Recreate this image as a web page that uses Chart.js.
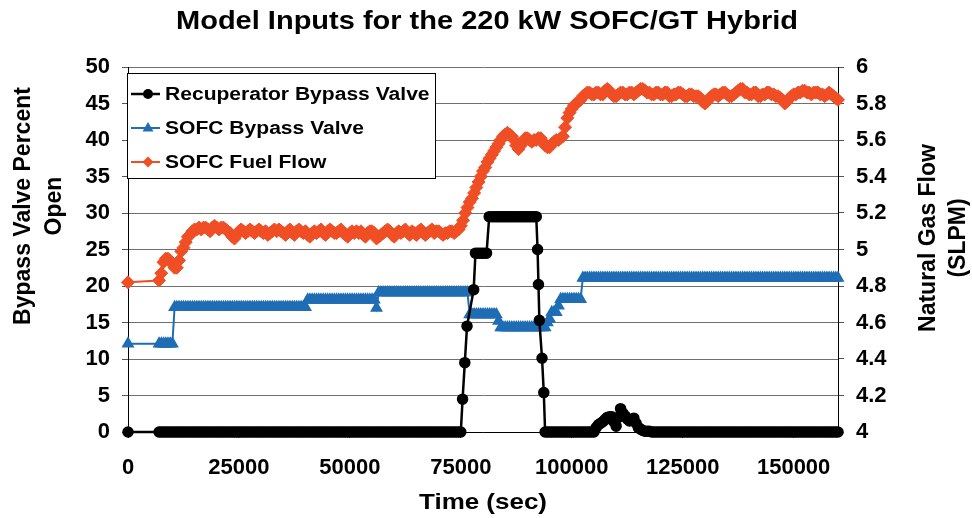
<!DOCTYPE html>
<html>
<head>
<meta charset="utf-8">
<script src="https://cdn.jsdelivr.net/npm/chart.js@4.4.1/dist/chart.umd.min.js"></script>
<style>
  html, body { margin: 0; padding: 0; background: #fff; }
</style>
</head>
<body>
<canvas id="hybridChart" width="972" height="518"></canvas>
<script>
// time stamps (sec) shared by the SOFC bypass valve and fuel flow series
var timeSec = [0,
  7000,7500,8000,8500,9000,9500,10000,10500,11000,11500,
  12000,12500,13000,13500,14000,14500,15000,15500,16000,16500,
  17000,17500,18000,18500,19000,19500,20000,20500,21000,21500,
  22000,22500,23000,23500,24000,24500,25000,25500,26000,26500,
  27000,27500,28000,28500,29000,29500,30000,30500,31000,31500,
  32000,32500,33000,33500,34000,34500,35000,35500,36000,36500,
  37000,37500,38000,38500,39000,39500,40000,40500,41000,41500,
  42000,42500,43000,43500,44000,44500,45000,45500,46000,46500,
  47000,47500,48000,48500,49000,49500,50000,50500,51000,51500,
  52000,52500,53000,53500,54000,54500,55000,55500,56000,56500,
  57000,57500,58000,58500,59000,59500,60000,60500,61000,61500,
  62000,62500,63000,63500,64000,64500,65000,65500,66000,66500,
  67000,67500,68000,68500,69000,69500,70000,70500,71000,71500,
  72000,72500,73000,73500,74000,74500,75000,75500,76000,76500,
  77000,77500,78000,78500,79000,79500,80000,80500,81000,81500,
  82000,82500,83000,83500,84000,84500,85000,85500,86000,86500,
  87000,87500,88000,88500,89000,89500,90000,90500,91000,91500,
  92000,92500,93000,93500,94000,94500,95000,95500,96000,96500,
  97000,97500,98000,98500,99000,99500,100000,100500,101000,101500,
  102000,102500,103000,103500,104000,104500,105000,105500,106000,106500,
  107000,107500,108000,108500,109000,109500,110000,110500,111000,111500,
  112000,112500,113000,113500,114000,114500,115000,115500,116000,116500,
  117000,117500,118000,118500,119000,119500,120000,120500,121000,121500,
  122000,122500,123000,123500,124000,124500,125000,125500,126000,126500,
  127000,127500,128000,128500,129000,129500,130000,130500,131000,131500,
  132000,132500,133000,133500,134000,134500,135000,135500,136000,136500,
  137000,137500,138000,138500,139000,139500,140000,140500,141000,141500,
  142000,142500,143000,143500,144000,144500,145000,145500,146000,146500,
  147000,147500,148000,148500,149000,149500,150000,150500,151000,151500,
  152000,152500,153000,153500,154000,154500,155000,155500,156000,156500,
  157000,157500,158000,158500,159000,159500,160000];

// SOFC bypass valve, percent open (left axis)
var sofcBypass = [12.1,
  12.1,12.1,12.1,12.1,12.1,12.1,12.1,17.1,17.1,17.1,
  17.1,17.1,17.1,17.1,17.1,17.1,17.1,17.1,17.1,17.1,
  17.1,17.1,17.1,17.1,17.1,17.1,17.1,17.1,17.1,17.1,
  17.1,17.1,17.1,17.1,17.1,17.1,17.1,17.1,17.1,17.1,
  17.1,17.1,17.1,17.1,17.1,17.1,17.1,17.1,17.1,17.1,
  17.1,17.1,17.1,17.1,17.1,17.1,17.1,17.1,17.1,17.1,
  17.1,17.1,17.1,17.1,17.1,17.1,17.1,18.1,18.1,18.1,
  18.1,18.1,18.1,18.1,18.1,18.1,18.1,18.1,18.1,18.1,
  18.1,18.1,18.1,18.1,18.1,18.1,18.1,18.1,18.1,18.1,
  18.1,18.1,18.1,18.1,18.1,18.1,18.1,18.1,17.0,19.1,
  19.1,19.1,19.1,19.1,19.1,19.1,19.1,19.1,19.1,19.1,
  19.1,19.1,19.1,19.1,19.1,19.1,19.1,19.1,19.1,19.1,
  19.1,19.1,19.1,19.1,19.1,19.1,19.1,19.1,19.1,19.1,
  19.1,19.1,19.1,19.1,19.1,19.1,19.1,19.1,19.1,19.1,
  16.1,16.1,16.1,16.1,16.1,16.1,16.1,16.1,16.1,16.1,
  16.1,16.1,16.1,15.2,14.3,14.3,14.3,14.3,14.3,14.3,
  14.3,14.3,14.3,14.3,14.3,14.3,14.3,14.3,14.3,14.3,
  14.3,14.3,14.3,14.3,14.3,15.0,15.5,16.4,16.4,16.4,
  17.3,18.2,18.2,18.2,18.2,18.2,18.2,18.2,18.2,18.2,
  18.2,21.1,21.1,21.1,21.1,21.1,21.1,21.1,21.1,21.1,
  21.1,21.1,21.1,21.1,21.1,21.1,21.1,21.1,21.1,21.1,
  21.1,21.1,21.1,21.1,21.1,21.1,21.1,21.1,21.1,21.1,
  21.1,21.1,21.1,21.1,21.1,21.1,21.1,21.1,21.1,21.1,
  21.1,21.1,21.1,21.1,21.1,21.1,21.1,21.1,21.1,21.1,
  21.1,21.1,21.1,21.1,21.1,21.1,21.1,21.1,21.1,21.1,
  21.1,21.1,21.1,21.1,21.1,21.1,21.1,21.1,21.1,21.1,
  21.1,21.1,21.1,21.1,21.1,21.1,21.1,21.1,21.1,21.1,
  21.1,21.1,21.1,21.1,21.1,21.1,21.1,21.1,21.1,21.1,
  21.1,21.1,21.1,21.1,21.1,21.1,21.1,21.1,21.1,21.1,
  21.1,21.1,21.1,21.1,21.1,21.1,21.1,21.1,21.1,21.1,
  21.1,21.1,21.1,21.1,21.1,21.1,21.1];

// SOFC fuel flow, SLPM (right axis)
var sofcFuel = [4.82,
  4.83,4.87,4.93,4.95,4.95,4.94,4.92,4.90,4.90,4.94,
  4.99,5.01,5.04,5.07,5.08,5.10,5.11,5.11,5.12,5.11,
  5.12,5.12,5.11,5.10,5.12,5.13,5.12,5.11,5.12,5.12,
  5.11,5.10,5.09,5.07,5.06,5.08,5.10,5.11,5.10,5.09,
  5.10,5.11,5.10,5.09,5.10,5.11,5.10,5.09,5.10,5.08,
  5.09,5.10,5.11,5.10,5.11,5.10,5.09,5.08,5.10,5.11,
  5.09,5.08,5.10,5.11,5.10,5.09,5.10,5.08,5.07,5.09,
  5.10,5.09,5.10,5.11,5.09,5.08,5.10,5.11,5.10,5.09,
  5.09,5.10,5.11,5.09,5.08,5.07,5.09,5.10,5.09,5.10,
  5.09,5.10,5.08,5.07,5.09,5.10,5.10,5.09,5.06,5.07,
  5.08,5.09,5.10,5.11,5.10,5.08,5.07,5.09,5.10,5.09,
  5.10,5.11,5.09,5.08,5.10,5.09,5.08,5.10,5.11,5.09,
  5.08,5.09,5.10,5.11,5.09,5.10,5.10,5.09,5.08,5.09,
  5.09,5.10,5.10,5.09,5.10,5.11,5.13,5.16,5.20,5.23,
  5.26,5.28,5.31,5.34,5.37,5.40,5.43,5.45,5.48,5.50,
  5.52,5.54,5.56,5.58,5.60,5.62,5.63,5.64,5.63,5.62,
  5.60,5.57,5.55,5.57,5.59,5.61,5.61,5.60,5.59,5.60,
  5.60,5.61,5.61,5.59,5.57,5.56,5.56,5.58,5.59,5.60,
  5.60,5.61,5.62,5.67,5.72,5.75,5.77,5.79,5.80,5.81,
  5.82,5.84,5.85,5.86,5.86,5.85,5.85,5.86,5.86,5.85,
  5.85,5.87,5.88,5.87,5.85,5.84,5.84,5.85,5.86,5.86,
  5.85,5.85,5.86,5.86,5.85,5.86,5.87,5.88,5.88,5.87,
  5.86,5.86,5.85,5.85,5.86,5.86,5.85,5.85,5.86,5.86,
  5.84,5.84,5.85,5.85,5.86,5.86,5.85,5.84,5.84,5.85,
  5.85,5.84,5.84,5.84,5.83,5.81,5.80,5.81,5.83,5.84,
  5.85,5.85,5.84,5.85,5.86,5.86,5.85,5.84,5.84,5.85,
  5.86,5.87,5.88,5.88,5.86,5.86,5.85,5.85,5.86,5.86,
  5.84,5.84,5.85,5.85,5.86,5.86,5.85,5.85,5.84,5.84,
  5.83,5.82,5.80,5.81,5.83,5.84,5.85,5.85,5.86,5.86,
  5.87,5.87,5.86,5.86,5.85,5.86,5.86,5.86,5.85,5.85,
  5.84,5.85,5.86,5.85,5.84,5.83,5.82];

// recuperator bypass valve has its own time stamps
var recupTime = [0,
  7000,7500,8000,8500,9000,9500,10000,10500,11000,11500,
  12000,12500,13000,13500,14000,14500,15000,15500,16000,16500,
  17000,17500,18000,18500,19000,19500,20000,20500,21000,21500,
  22000,22500,23000,23500,24000,24500,25000,25500,26000,26500,
  27000,27500,28000,28500,29000,29500,30000,30500,31000,31500,
  32000,32500,33000,33500,34000,34500,35000,35500,36000,36500,
  37000,37500,38000,38500,39000,39500,40000,40500,41000,41500,
  42000,42500,43000,43500,44000,44500,45000,45500,46000,46500,
  47000,47500,48000,48500,49000,49500,50000,50500,51000,51500,
  52000,52500,53000,53500,54000,54500,55000,55500,56000,56500,
  57000,57500,58000,58500,59000,59500,60000,60500,61000,61500,
  62000,62500,63000,63500,64000,64500,65000,65500,66000,66500,
  67000,67500,68000,68500,69000,69500,70000,70500,71000,71500,
  72000,72500,73000,73500,74000,74500,75000,
  75400,75900,76400,77900,78300,78800,79300,79800,80300,80800,81400,
  82000,82500,83000,83500,84000,84500,85000,85500,86000,86500,
  87000,87500,88000,88500,89000,89500,90000,90500,91000,91500,92000,
  92300,92500,92700,93300,93700,94000,
  94500,95000,95500,96000,96500,97000,97500,98000,98500,99000,
  99500,100000,100500,101000,101500,102000,102500,103000,103500,104000,
  104500,105000,
  105500,106000,106500,107000,107500,108000,108500,109000,109500,110000,
  110500,111000,111500,112000,112500,113000,113500,114000,114500,115000,
  115500,116000,
  116500,117000,117500,118000,118500,119000,119500,120000,120500,121000,
  121500,122000,122500,123000,123500,124000,124500,125000,125500,126000,
  126500,127000,127500,128000,128500,129000,129500,130000,130500,131000,
  131500,132000,132500,133000,133500,134000,134500,135000,135500,136000,
  136500,137000,137500,138000,138500,139000,139500,140000,140500,141000,
  141500,142000,142500,143000,143500,144000,144500,145000,145500,146000,
  146500,147000,147500,148000,148500,149000,149500,150000,150500,151000,
  151500,152000,152500,153000,153500,154000,154500,155000,155500,156000,
  156500,157000,157500,158000,158500,159000,159500,160000];

var recupBypass = [0,
  0,0,0,0,0,0,0,0,0,0,
  0,0,0,0,0,0,0,0,0,0,
  0,0,0,0,0,0,0,0,0,0,
  0,0,0,0,0,0,0,0,0,0,
  0,0,0,0,0,0,0,0,0,0,
  0,0,0,0,0,0,0,0,0,0,
  0,0,0,0,0,0,0,0,0,0,
  0,0,0,0,0,0,0,0,0,0,
  0,0,0,0,0,0,0,0,0,0,
  0,0,0,0,0,0,0,0,0,0,
  0,0,0,0,0,0,0,0,0,0,
  0,0,0,0,0,0,0,0,0,0,
  0,0,0,0,0,0,0,0,0,0,
  0,0,0,0,0,0,0,
  4.5,9.5,14.5,19.5,24.5,24.5,24.5,24.5,24.5,24.5,29.5,
  29.5,29.5,29.5,29.5,29.5,29.5,29.5,29.5,29.5,29.5,
  29.5,29.5,29.5,29.5,29.5,29.5,29.5,29.5,29.5,29.5,29.5,
  25.0,20.2,15.3,10.1,5.4,0,
  0,0,0,0,0,0,0,0,0,0,
  0,0,0,0,0,0,0,0,0,0,
  0,0,
  0.6,1.0,1.2,1.4,1.7,2.0,2.1,2.1,1.4,0.8,
  2.0,3.2,2.6,2.2,1.8,1.5,1.7,1.9,1.2,0.6,
  0.4,0.2,
  0.1,0.1,0.1,0,0,0,0,0,0,0,
  0,0,0,0,0,0,0,0,0,0,
  0,0,0,0,0,0,0,0,0,0,
  0,0,0,0,0,0,0,0,0,0,
  0,0,0,0,0,0,0,0,0,0,
  0,0,0,0,0,0,0,0,0,0,
  0,0,0,0,0,0,0,0,0,0,
  0,0,0,0,0,0,0,0,0,0,
  0,0,0,0,0,0,0,0];

var xTickValues = [0, 25000, 50000, 75000, 100000, 125000, 150000];

var seriesNames = ["Recuperator Bypass Valve", "SOFC Bypass Valve", "SOFC Fuel Flow"];
var chartTitle = "Model Inputs for the 220 kW SOFC/GT Hybrid";
var leftTitle = ["Bypass Valve Percent", "Open"];
var rightTitle = ["Natural Gas Flow", "(SLPM)"];
var xTitle = "Time (sec)";

var black = "#000000";
var blue = "#1f6db4";
var orange = "#f04e25";
var fontFam = '"Liberation Sans", Arial, sans-serif';

function toPoints(xs, ys) {
  return xs.map(function (x, i) { return {x: x, y: ys[i]}; });
}

// text drawn a little wider than the font, as in the source image
function wideText(ctx, txt, x, y, sx) {
  ctx.save();
  ctx.translate(x, y);
  ctx.scale(sx, 1);
  ctx.fillText(txt, 0, 0);
  ctx.restore();
}

var decor = {
  id: "decor",
  afterDraw: function (chart) {
    var ctx = chart.ctx;
    ctx.save();
    ctx.fillStyle = "#000";
    ctx.textAlign = "center";
    ctx.textBaseline = "middle";

    ctx.font = "bold 25px " + fontFam;
    wideText(ctx, chartTitle, 487, 22, 1.16);

    ctx.font = "bold 22px " + fontFam;
    wideText(ctx, xTitle, 483, 503, 1.18);

    ctx.font = "bold 23px " + fontFam;
    ctx.save();
    ctx.translate(24, 206);
    ctx.rotate(-Math.PI / 2);
    ctx.fillText(leftTitle[0], 0, 0);
    ctx.fillText(leftTitle[1], 0, 31);
    ctx.restore();

    ctx.save();
    ctx.translate(929, 238);
    ctx.rotate(-Math.PI / 2);
    ctx.fillText(rightTitle[0], 0, 0);
    ctx.fillText(rightTitle[1], 0, 30);
    ctx.restore();

    // legend box
    ctx.fillStyle = "#fff";
    ctx.fillRect(127.5, 73.5, 308, 105);
    ctx.strokeStyle = "#000";
    ctx.lineWidth = 1;
    ctx.strokeRect(127.5, 73.5, 308, 105);

    var rows = [94, 128, 162];
    var colors = [black, blue, orange];
    for (var i = 0; i < 3; i++) {
      var y = rows[i];
      ctx.strokeStyle = colors[i];
      ctx.fillStyle = colors[i];
      ctx.lineWidth = i === 0 ? 2.5 : 2;
      ctx.beginPath();
      ctx.moveTo(131, y);
      ctx.lineTo(160, y);
      ctx.stroke();
      ctx.beginPath();
      if (i === 0) {
        ctx.arc(148, y, 5, 0, Math.PI * 2);
      } else if (i === 1) {
        ctx.moveTo(148, y - 6);
        ctx.lineTo(148 + 5.5, y + 3.5);
        ctx.lineTo(148 - 5.5, y + 3.5);
        ctx.closePath();
      } else {
        ctx.moveTo(148, y - 5.5);
        ctx.lineTo(153.5, y);
        ctx.lineTo(148, y + 5.5);
        ctx.lineTo(142.5, y);
        ctx.closePath();
      }
      ctx.fill();
      ctx.fillStyle = "#000";
      ctx.textAlign = "left";
      ctx.font = "bold 18px " + fontFam;
      wideText(ctx, seriesNames[i], 165, y + 1, 1.17);
    }
    ctx.restore();
  }
};

new Chart("hybridChart", {
  type: "line",
  data: {
    datasets: [{
      label: seriesNames[0],
      data: toPoints(recupTime, recupBypass),
      yAxisID: "y",
      clip: false,
      borderColor: black,
      backgroundColor: black,
      borderWidth: 2.5,
      pointStyle: "circle",
      pointRadius: 5,
      pointBorderWidth: 1.5,
      pointBackgroundColor: black,
      pointBorderColor: black
    }, {
      label: seriesNames[1],
      data: toPoints(timeSec, sofcBypass),
      yAxisID: "y",
      clip: false,
      borderColor: blue,
      backgroundColor: blue,
      borderWidth: 2,
      pointStyle: "triangle",
      pointRadius: 6,
      pointBorderWidth: 1.5,
      pointBackgroundColor: blue,
      pointBorderColor: blue
    }, {
      label: seriesNames[2],
      data: toPoints(timeSec, sofcFuel),
      yAxisID: "y1",
      clip: false,
      borderColor: orange,
      backgroundColor: orange,
      borderWidth: 2,
      pointStyle: "rectRot",
      pointRadius: 6.5,
      pointBorderWidth: 1,
      pointBackgroundColor: orange,
      pointBorderColor: orange
    }]
  },
  options: {
    responsive: false,
    animation: false,
    layout: {padding: {top: 67, left: 0, right: 0, bottom: 0}},
    plugins: {
      legend: {display: false},
      title: {display: false},
      tooltip: {enabled: false}
    },
    elements: {line: {tension: 0}},
    scales: {
      x: {
        type: "linear",
        position: "bottom",
        min: 0,
        max: 160000,
        afterBuildTicks: function (s) {
          s.ticks = xTickValues.map(function (v) { return {value: v}; });
        },
        ticks: {
          autoSkip: false,
          maxRotation: 0,
          color: "#000",
          padding: 17,
          font: {family: fontFam, size: 22, weight: "bold"},
          callback: function (v) { return String(v); }
        },
        grid: {drawOnChartArea: false, drawTicks: true, tickLength: 6, color: "#000"},
        border: {color: "#000", width: 1},
        title: {display: false},
        afterFit: function (s) { s.height = 86; }
      },
      y: {
        position: "left",
        min: 0,
        max: 50,
        ticks: {
          stepSize: 5,
          color: "#000",
          padding: 12,
          font: {family: fontFam, size: 22, weight: "bold"}
        },
        grid: {color: "#707070", tickLength: 6, tickColor: "#555"},
        border: {color: "#000", width: 1},
        afterFit: function (s) { s.width = 128; }
      },
      y1: {
        position: "right",
        min: 4,
        max: 6,
        ticks: {
          stepSize: 0.2,
          color: "#000",
          padding: 12,
          font: {family: fontFam, size: 22, weight: "bold"},
          callback: function (v) { return String(Number(v.toFixed(1))); }
        },
        grid: {drawOnChartArea: false, tickLength: 6, color: "#555"},
        border: {color: "#000", width: 1},
        afterFit: function (s) { s.width = 134; }
      }
    }
  },
  plugins: [decor]
});
</script>
</body>
</html>
